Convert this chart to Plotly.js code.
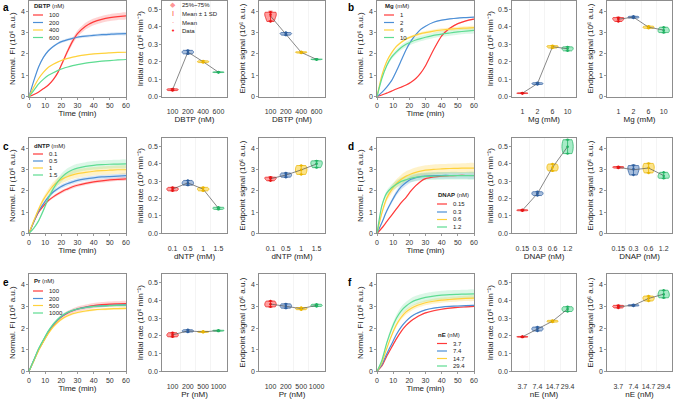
<!DOCTYPE html>
<html><head><meta charset="utf-8">
<script src="https://cdn.plot.ly/plotly-3.0.1.min.js"></script>
<style>html,body{margin:0;padding:0;background:#fff}#chart{width:674px;height:400px}</style>
</head><body><div id="chart"></div>
<script>
// ---------- time grid (min) ----------
const T = [0,3,6,9,12,15,18,21,24,27,30,35,40,45,50,55,60];

// ---------- panel a : DBTP (nM) ----------
const aCats = ['100','200','400','600'];
const aC100 = [0,0.1,0.22,0.38,0.55,0.8,1.15,1.65,2.15,2.6,2.95,3.3,3.5,3.62,3.7,3.75,3.78];
const aC200 = [0,0.75,1.4,1.85,2.15,2.35,2.5,2.6,2.67,2.73,2.78,2.83,2.87,2.9,2.92,2.94,2.95];
const aC400 = [0,0.45,0.85,1.15,1.38,1.52,1.63,1.72,1.79,1.85,1.9,1.96,2.0,2.03,2.05,2.07,2.08];
const aC600 = [0,0.3,0.6,0.82,1.0,1.12,1.23,1.32,1.39,1.45,1.5,1.57,1.62,1.66,1.69,1.72,1.74];
const aS100 = [0,0.01,0.01,0.02,0.03,0.04,0.06,0.09,0.12,0.14,0.15,0.16,0.16,0.16,0.16,0.16,0.16];
const aS200 = [0,0.02,0.03,0.04,0.05,0.05,0.05,0.06,0.06,0.06,0.06,0.06,0.06,0.07,0.07,0.07,0.07];
const aS400 = [0,0.01,0.01,0.01,0.01,0.01,0.01,0.01,0.01,0.01,0.01,0.01,0.01,0.01,0.01,0.01,0.01];
const aS600 = [0,0.01,0.01,0.01,0.01,0.01,0.01,0.01,0.01,0.01,0.01,0.01,0.01,0.01,0.01,0.01,0.01];
const aRate = [[0.035,0.04,0.045],[0.245,0.255,0.265],[0.195,0.2,0.205],[0.138,0.14,0.142]];
const aEnd  = [[3.52,3.85,3.95],[2.88,2.95,3.0],[2.04,2.08,2.1],[1.73,1.75,1.76]];

// ---------- panel b : Mg (mM) ----------
const bCats = ['1','2','6','10'];
const bC1  = [0,0.08,0.17,0.26,0.36,0.45,0.55,0.68,0.85,1.1,1.45,2.2,2.85,3.2,3.42,3.55,3.63];
const bC2  = [0,0.2,0.45,0.75,1.2,1.7,2.2,2.6,2.9,3.15,3.3,3.48,3.58,3.64,3.68,3.7,3.72];
const bC6  = [0,1.0,1.65,2.05,2.35,2.55,2.7,2.8,2.88,2.95,3.0,3.07,3.12,3.16,3.19,3.21,3.23];
const bC10 = [0,0.85,1.45,1.85,2.1,2.3,2.45,2.56,2.65,2.72,2.78,2.87,2.93,2.98,3.03,3.07,3.1];
const bS1  = [0,0,0.01,0.01,0.01,0.01,0.01,0.01,0.01,0.02,0.02,0.02,0.03,0.03,0.03,0.03,0.03];
const bS2  = [0,0.01,0.01,0.02,0.02,0.02,0.02,0.02,0.02,0.02,0.02,0.02,0.02,0.02,0.02,0.02,0.02];
const bS6  = [0,0.03,0.04,0.05,0.05,0.06,0.06,0.06,0.07,0.07,0.07,0.07,0.08,0.08,0.08,0.08,0.08];
const bS10 = [0,0.05,0.08,0.1,0.11,0.12,0.12,0.13,0.13,0.13,0.13,0.13,0.13,0.13,0.13,0.13,0.13];
const bRate = [[0.018,0.02,0.022],[0.07,0.075,0.08],[0.278,0.287,0.292],[0.262,0.275,0.285]];
const bEnd  = [[3.52,3.65,3.7],[3.68,3.72,3.76],[3.2,3.25,3.3],[3.0,3.1,3.25]];

// ---------- panel c : dNTP (mM) ----------
const cCats = ['0.1','0.5','1','1.5'];
const cC01 = [0,0.55,1.0,1.3,1.55,1.72,1.87,2.0,2.1,2.2,2.27,2.36,2.43,2.48,2.52,2.55,2.57];
const cC05 = [0,0.55,1.05,1.4,1.72,1.95,2.12,2.25,2.35,2.43,2.5,2.57,2.62,2.66,2.68,2.7,2.72];
const cC1  = [0,0.6,1.15,1.6,1.95,2.25,2.45,2.58,2.68,2.76,2.82,2.88,2.93,2.96,2.98,3.0,3.0];
const cC15 = [0,0.25,0.6,1.1,1.65,2.1,2.45,2.7,2.88,3.0,3.08,3.16,3.21,3.24,3.26,3.27,3.28];
const cS01 = [0,0.02,0.04,0.05,0.06,0.07,0.07,0.08,0.08,0.08,0.08,0.08,0.08,0.08,0.08,0.08,0.08];
const cS05 = [0,0.02,0.04,0.06,0.07,0.08,0.09,0.1,0.1,0.1,0.1,0.1,0.1,0.1,0.1,0.1,0.1];
const cS1  = [0,0.04,0.08,0.12,0.15,0.17,0.18,0.19,0.2,0.2,0.2,0.2,0.2,0.2,0.2,0.2,0.2];
const cS15 = [0,0.02,0.05,0.09,0.13,0.16,0.18,0.19,0.2,0.2,0.2,0.2,0.2,0.2,0.2,0.2,0.2];
const cRate = [[0.245,0.255,0.265],[0.278,0.29,0.305],[0.245,0.255,0.265],[0.138,0.145,0.15]];
const cEnd  = [[2.48,2.6,2.65],[2.65,2.75,2.85],[2.78,3.0,3.2],[3.1,3.3,3.42]];

// ---------- panel d : DNAP (nM) ----------
const dCats = ['0.15','0.3','0.6','1.2'];
const dC015 = [0,0.25,0.55,0.85,1.15,1.45,1.7,2.0,2.25,2.45,2.58,2.66,2.7,2.72,2.73,2.73,2.73];
const dC03  = [0,0.5,1.05,1.5,1.9,2.2,2.4,2.55,2.63,2.68,2.7,2.72,2.73,2.73,2.73,2.73,2.73];
const dC06  = [0,0.95,1.65,2.05,2.35,2.55,2.7,2.8,2.88,2.94,2.98,3.02,3.04,3.06,3.07,3.08,3.08];
const dC12  = [0,1.3,1.9,2.15,2.32,2.45,2.53,2.6,2.64,2.67,2.69,2.7,2.71,2.72,2.72,2.72,2.72];
const dS015 = [0,0.01,0.02,0.02,0.03,0.03,0.03,0.03,0.03,0.03,0.03,0.03,0.03,0.03,0.03,0.03,0.03];
const dS03  = [0,0.04,0.07,0.1,0.12,0.14,0.15,0.15,0.15,0.15,0.15,0.15,0.15,0.15,0.15,0.15,0.15];
const dS06  = [0,0.08,0.14,0.18,0.2,0.22,0.23,0.23,0.23,0.23,0.23,0.23,0.23,0.23,0.23,0.23,0.23];
const dS12  = [0,0.08,0.12,0.15,0.17,0.18,0.18,0.18,0.18,0.18,0.18,0.18,0.18,0.18,0.18,0.18,0.18];
const dRate = [[0.13,0.133,0.136],[0.218,0.23,0.24],[0.36,0.38,0.4],[0.46,0.5,0.54]];
const dEnd  = [[3.08,3.12,3.15],[2.75,3.05,3.2],[2.85,3.1,3.3],[2.6,2.7,2.88]];

// ---------- panel e : Pr (nM) ----------
const eCats = ['100','200','500','1000'];
const eC100  = [0,0.5,1.0,1.4,1.8,2.12,2.38,2.57,2.7,2.8,2.88,2.97,3.04,3.08,3.11,3.12,3.13];
const eC200  = [0,0.52,1.03,1.45,1.85,2.15,2.4,2.58,2.72,2.81,2.88,2.96,3.0,3.03,3.05,3.06,3.07];
const eC500  = [0,0.48,0.97,1.38,1.75,2.05,2.28,2.45,2.57,2.66,2.72,2.79,2.84,2.87,2.89,2.9,2.91];
const eC1000 = [0,0.52,1.05,1.47,1.87,2.18,2.42,2.6,2.73,2.82,2.88,2.95,3.0,3.02,3.04,3.05,3.06];
const eS100  = [0,0.02,0.04,0.05,0.06,0.07,0.08,0.09,0.1,0.11,0.12,0.12,0.12,0.12,0.12,0.12,0.12];
const eS200  = [0,0.01,0.02,0.03,0.03,0.04,0.04,0.04,0.04,0.04,0.04,0.04,0.04,0.04,0.04,0.04,0.04];
const eS500  = [0,0.02,0.03,0.04,0.05,0.05,0.05,0.05,0.05,0.05,0.05,0.05,0.05,0.05,0.05,0.05,0.05];
const eS1000 = [0,0.02,0.03,0.04,0.05,0.06,0.06,0.06,0.06,0.06,0.06,0.06,0.06,0.06,0.06,0.06,0.06];
const eRate = [[0.195,0.205,0.218],[0.222,0.228,0.235],[0.22,0.223,0.226],[0.227,0.23,0.232]];
const eEnd  = [[2.98,3.1,3.25],[2.92,3.02,3.12],[2.85,2.9,2.95],[3.0,3.05,3.1]];

// ---------- panel f : nE (nM) ----------
const fCats = ['3.7','7.4','14.7','29.4'];
const fC37  = [0,0.25,0.7,1.1,1.5,1.85,2.12,2.33,2.48,2.6,2.7,2.8,2.87,2.92,2.96,2.98,3.0];
const fC74  = [0,0.3,0.8,1.25,1.7,2.05,2.32,2.52,2.66,2.76,2.84,2.92,2.97,3.0,3.02,3.04,3.05];
const fC147 = [0,0.4,1.05,1.65,2.15,2.5,2.75,2.9,3.02,3.1,3.17,3.24,3.29,3.32,3.35,3.37,3.38];
const fC294 = [0,0.5,1.3,1.95,2.45,2.8,3.02,3.18,3.29,3.36,3.42,3.48,3.52,3.55,3.56,3.57,3.58];
const fS37  = [0,0.01,0.02,0.02,0.03,0.03,0.03,0.03,0.03,0.03,0.03,0.03,0.03,0.03,0.03,0.03,0.03];
const fS74  = [0,0.01,0.01,0.02,0.02,0.02,0.02,0.02,0.02,0.02,0.02,0.02,0.02,0.02,0.02,0.02,0.02];
const fS147 = [0,0.03,0.06,0.08,0.1,0.11,0.12,0.12,0.12,0.12,0.12,0.12,0.12,0.12,0.12,0.12,0.12];
const fS294 = [0,0.05,0.1,0.14,0.17,0.19,0.2,0.2,0.2,0.2,0.2,0.2,0.2,0.2,0.2,0.2,0.2];
const fRate = [[0.193,0.195,0.197],[0.228,0.24,0.25],[0.278,0.283,0.288],[0.338,0.352,0.365]];
const fEnd  = [[2.93,3.0,3.05],[3.02,3.05,3.08],[3.25,3.38,3.48],[3.4,3.55,3.75]];

// ---------- assemble ----------
const panels = [
  {letter:'a', row:0, col:0, name:'DBTP', unit:'(nM)', cats:aCats, curves:[aC100,aC200,aC400,aC600], sds:[aS100,aS200,aS400,aS600], rate:aRate, end:aEnd},
  {letter:'b', row:0, col:1, name:'Mg',   unit:'(mM)', cats:bCats, curves:[bC1,bC2,bC6,bC10], sds:[bS1,bS2,bS6,bS10], rate:bRate, end:bEnd},
  {letter:'c', row:1, col:0, name:'dNTP', unit:'(mM)', cats:cCats, curves:[cC01,cC05,cC1,cC15], sds:[cS01,cS05,cS1,cS15], rate:cRate, end:cEnd},
  {letter:'d', row:1, col:1, name:'DNAP', unit:'(nM)', cats:dCats, curves:[dC015,dC03,dC06,dC12], sds:[dS015,dS03,dS06,dS12], rate:dRate, end:dEnd},
  {letter:'e', row:2, col:0, name:'Pr',   unit:'(nM)', cats:eCats, curves:[eC100,eC200,eC500,eC1000], sds:[eS100,eS200,eS500,eS1000], rate:eRate, end:eEnd},
  {letter:'f', row:2, col:1, name:'nE',   unit:'(nM)', cats:fCats, curves:[fC37,fC74,fC147,fC294], sds:[fS37,fS74,fS147,fS294], rate:fRate, end:fEnd}
];

// layout geometry (pixels)
const W = 674, H = 400;
const COLX = [[[29,126],[162,227],[259,325]], [[377,474],[512,576],[607,672]]];
const ROWY = [[0.5,96.7],[138,233.3],[274,371.3]];
const LEG = {
  a:{x:33, ty:6, ey:[15,22.5,30,37.5]},
  b:{x:384, ty:6, ey:[15,22.5,30,37.5]},
  c:{x:33, ty:146, ey:[154,161,168,175]},
  d:{x:437, ty:195, ey:[204,212,219.5,227]},
  e:{x:33, ty:281, ey:[291,298.5,305.5,313]},
  f:{x:437, ty:334.5, ey:[343.5,351,358.5,366]}
};
const CURVE = ['#ff3a3a','#4d8fd6','#ffd23c','#5edc92'];
const BAND  = ['rgba(255,58,58,0.22)','rgba(77,143,214,0.22)','rgba(255,210,60,0.28)','rgba(94,220,146,0.22)'];
const VFILL = ['rgba(255,40,40,0.45)','rgba(60,110,180,0.45)','rgba(250,200,20,0.5)','rgba(60,210,130,0.45)'];
const VLINE = ['#e81414','#2f5f9f','#eab500','#22b263'];

const px2x = p => p / W;
const px2y = p => 1 - p / H;
const mean = a => a.reduce((s,v)=>s+v,0)/a.length;
const sd = a => { const m = mean(a); return Math.sqrt(a.reduce((s,v)=>s+(v-m)*(v-m),0)/(a.length-1)); };

const FONT = 'Liberation Sans, Arial, sans-serif';
const traces = [];
const layout = {
  width: W, height: H, margin:{l:0,r:0,t:0,b:0},
  paper_bgcolor:'#ffffff', plot_bgcolor:'rgba(0,0,0,0)',
  showlegend:false, violinmode:'overlay',
  font:{family:FONT, size:7, color:'#222'},
  annotations:[], shapes:[]
};
const axBase = () => ({
  showline:true, mirror:true, linecolor:'#707070', linewidth:0.8,
  ticks:'outside', ticklen:2, tickwidth:0.7, tickcolor:'#707070',
  zeroline:false, showgrid:false, fixedrange:true, tickangle:0, automargin:false,
  tickfont:{family:FONT, size:7, color:'#333'}
});
const ttl = (text, standoff) => ({text, font:{family:FONT, size:8, color:'#222'}, standoff});

panels.forEach((P, p) => {
  for (let k = 0; k < 3; k++) {
    const n = p*3 + k + 1;
    const suf = n === 1 ? '' : String(n);
    const xa = 'x' + suf, ya = 'y' + suf;
    const cx = COLX[P.col][k], ry = ROWY[P.row];
    const xax = axBase(), yax = axBase();
    xax.domain = [px2x(cx[0]), px2x(cx[1])]; xax.anchor = ya;
    yax.domain = [px2y(ry[1]), px2y(ry[0])]; yax.anchor = xa;
    if (k === 0) {
      xax.range = [0,60]; xax.dtick = 10; xax.title = ttl('Time (min)', 2);
      yax.range = [0,4.5]; yax.dtick = 1; yax.title = ttl('Normal. FI (10⁶ a.u.)', 3);
      P.curves.forEach((c, i) => {
        const up = c.map((v,j)=>v + P.sds[i][j]);
        const lo = c.map((v,j)=>v - P.sds[i][j]);
        traces.push({type:'scatter', mode:'lines', xaxis:xa, yaxis:ya,
          x: T.concat(T.slice().reverse()), y: up.concat(lo.slice().reverse()),
          fill:'toself', fillcolor:BAND[i], line:{width:0, color:BAND[i], shape:'spline', smoothing:0.6}, hoverinfo:'skip'});
      });
      P.curves.forEach((c, i) => {
        traces.push({type:'scatter', mode:'lines', xaxis:xa, yaxis:ya, x:T, y:c,
          line:{color:CURVE[i], width:1.2, shape:'spline', smoothing:0.6}, hoverinfo:'skip'});
      });
      const L = LEG[P.letter];
      layout.annotations.push({xref:'paper', yref:'paper', x:px2x(L.x-1), y:px2y(L.ty), xanchor:'left', yanchor:'middle',
        text:'<b>'+P.name+'</b> '+P.unit, showarrow:false, font:{family:FONT, size:6, color:'#222'}});
      P.cats.forEach((cat, i) => {
        layout.shapes.push({type:'line', xref:'paper', yref:'paper', x0:px2x(L.x), x1:px2x(L.x+10),
          y0:px2y(L.ey[i]), y1:px2y(L.ey[i]), line:{color:CURVE[i], width:1.2}});
        layout.annotations.push({xref:'paper', yref:'paper', x:px2x(L.x+14), y:px2y(L.ey[i]), xanchor:'left', yanchor:'middle',
          text:cat, showarrow:false, font:{family:FONT, size:6, color:'#222'}});
      });
    } else {
      const data = k === 1 ? P.rate : P.end;
      const idx = P.cats.map((c,i)=>i);
      xax.type = 'linear'; xax.tickmode = 'array'; xax.tickvals = idx; xax.ticktext = P.cats;
      xax.range = k === 1 ? [-0.69, 3.56] : [-0.75, 3.55];
      xax.ticks = ''; xax.ticklabelstandoff = 8;
      xax.minor = {tickmode:'array', tickvals: idx.slice(1).map(i=>i-0.5), ticks:'', showgrid:true, gridcolor:'#ececec', gridwidth:0.6};
      xax.title = ttl(P.name + ' ' + P.unit, 2);
      if (k === 1) {
        yax.range = [0,0.55]; yax.dtick = 0.1; yax.tickformat = '.1f';
        yax.title = ttl('Initial rate (10⁶ min⁻¹)', 3);
      } else {
        yax.range = [0,4.5]; yax.dtick = 1;
        yax.title = ttl('Endpoint signal (10⁶ a.u.)', 3);
      }
      const means = data.map(mean);
      traces.push({type:'scatter', mode:'lines', xaxis:xa, yaxis:ya, x:idx, y:means,
        line:{color:'#555', width:0.7}, hoverinfo:'skip'});
      data.forEach((vals, i) => {
        traces.push({type:'violin', xaxis:xa, yaxis:ya, x:vals.map(()=>i), y:vals, name:P.cats[i],
          points:'all', pointpos:0, jitter:0, spanmode:'hard', width:0.75, scalemode:'width',
          fillcolor:VFILL[i], line:{color:VLINE[i], width:0.7},
          marker:{size:2.4, color:VLINE[i]}, box:{visible:false}, meanline:{visible:false}, hoverinfo:'skip'});
        traces.push({type:'scatter', mode:'markers', xaxis:xa, yaxis:ya, x:[i], y:[means[i]],
          error_y:{type:'data', array:[sd(vals)], visible:true, color:VLINE[i], thickness:0.8, width:2},
          marker:{size:2, color:VLINE[i]}, hoverinfo:'skip'});
      });
    }
    layout['xaxis' + suf] = xax;
    layout['yaxis' + suf] = yax;
  }
  const lx = P.col === 0 ? 1 : 346, ly = ROWY[P.row][0] + (P.row === 0 ? 0 : 1);
  layout.annotations.push({xref:'paper', yref:'paper', x:px2x(lx), y:px2y(ly), xanchor:'left', yanchor:'top',
    text:'<b>'+P.letter+'</b>', showarrow:false, font:{family:FONT, size:10, color:'#000'}});
});

const keyItems = [
  {sym:'◆', col:'rgba(255,60,60,0.55)', txt:'25%~75%', y:5},
  {sym:'I', col:'#ff4040', txt:'Mean ± 1 SD', y:14},
  {sym:'·', col:'#ff8080', txt:'Mean', y:22.5},
  {sym:'•', col:'#ff2020', txt:'Data', y:30.5}
];
keyItems.forEach(it => {
  layout.annotations.push({xref:'paper', yref:'paper', x:px2x(173), y:px2y(it.y), xanchor:'center', yanchor:'middle',
    text:it.sym, showarrow:false, font:{family:'DejaVu Sans', size:7, color:it.col}});
  layout.annotations.push({xref:'paper', yref:'paper', x:px2x(180), y:px2y(it.y), xanchor:'left', yanchor:'middle',
    text:it.txt, showarrow:false, font:{family:FONT, size:6, color:'#222'}});
});

Plotly.newPlot('chart', traces, layout, {staticPlot:true, displayModeBar:false});
</script>
</body></html>
